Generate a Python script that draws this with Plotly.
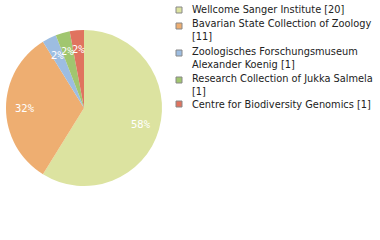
import math
import plotly.graph_objects as go

labels = ["Wellcome Sanger Institute [20]",
          "Bavarian State Collection of Zoology<br>[11]",
          "Zoologisches Forschungsmuseum<br>Alexander Koenig [1]",
          "Research Collection of Jukka Salmela<br>[1]",
          "Centre for Biodiversity Genomics [1]"]
names = ["Wellcome Sanger Institute", "Bavarian State Collection of Zoology",
         "Zoologisches Forschungsmuseum Alexander Koenig",
         "Research Collection of Jukka Salmela", "Centre for Biodiversity Genomics"]
values = [20, 11, 1, 1, 1]
colors = ["#dce3a0", "#eeae71", "#9dbde1", "#a1c66f", "#e0735f"]

total = sum(values)
pct_text = [f"{int(v * 100 / total)}%" for v in values]

W, H = 380, 240
CX, CY, R = 84, 108, 78
fig = go.Figure(go.Pie(
    labels=names, values=values, textinfo="none",
    sort=False, direction="clockwise", rotation=0,
    marker=dict(colors=colors, line=dict(width=0)),
    domain=dict(x=[(CX - R) / W, (CX + R) / W], y=[1 - (CY + R) / H, 1 - (CY - R) / H]),
    showlegend=False, hoverinfo="skip",
))

shapes, annos = [], []
# percentage labels placed at 0.76 R along each slice's mid-angle
cum = 0
for v, t in zip(values, pct_text):
    mid = (cum + v / 2) / total * 2 * math.pi
    cum += v
    px = CX + 0.76 * R * math.sin(mid)
    py = CY - 0.76 * R * math.cos(mid)
    annos.append(dict(text=t, xref="paper", yref="paper", x=px / W, y=1 - py / H,
                      xanchor="center", yanchor="middle", showarrow=False,
                      font=dict(family="DejaVu Sans Mono", size=10.5, color="white")))

# manual legend
legend_tops = [2.5, 16, 44, 71, 97]
square_cy = [10, 26, 53, 80, 104]
for i, (lab, c) in enumerate(zip(labels, colors)):
    cy = square_cy[i]
    shapes.append(dict(type="rect", xref="paper", yref="paper",
                       x0=176 / W, x1=182 / W, y0=1 - (cy - 3) / H, y1=1 - (cy + 3) / H,
                       fillcolor=c, line=dict(color="#888888", width=1)))
    annos.append(dict(text=lab, xref="paper", yref="paper", x=190 / W, y=1 - legend_tops[i] / H,
                      xanchor="left", yanchor="top", showarrow=False, align="left",
                      font=dict(family="DejaVu Sans", size=9.8, color="#222222")))

fig.update_layout(
    width=W, height=H, margin=dict(l=0, r=0, t=0, b=0),
    paper_bgcolor="white", plot_bgcolor="white",
    shapes=shapes, annotations=annos,
)
fig.write_html("out.html")
